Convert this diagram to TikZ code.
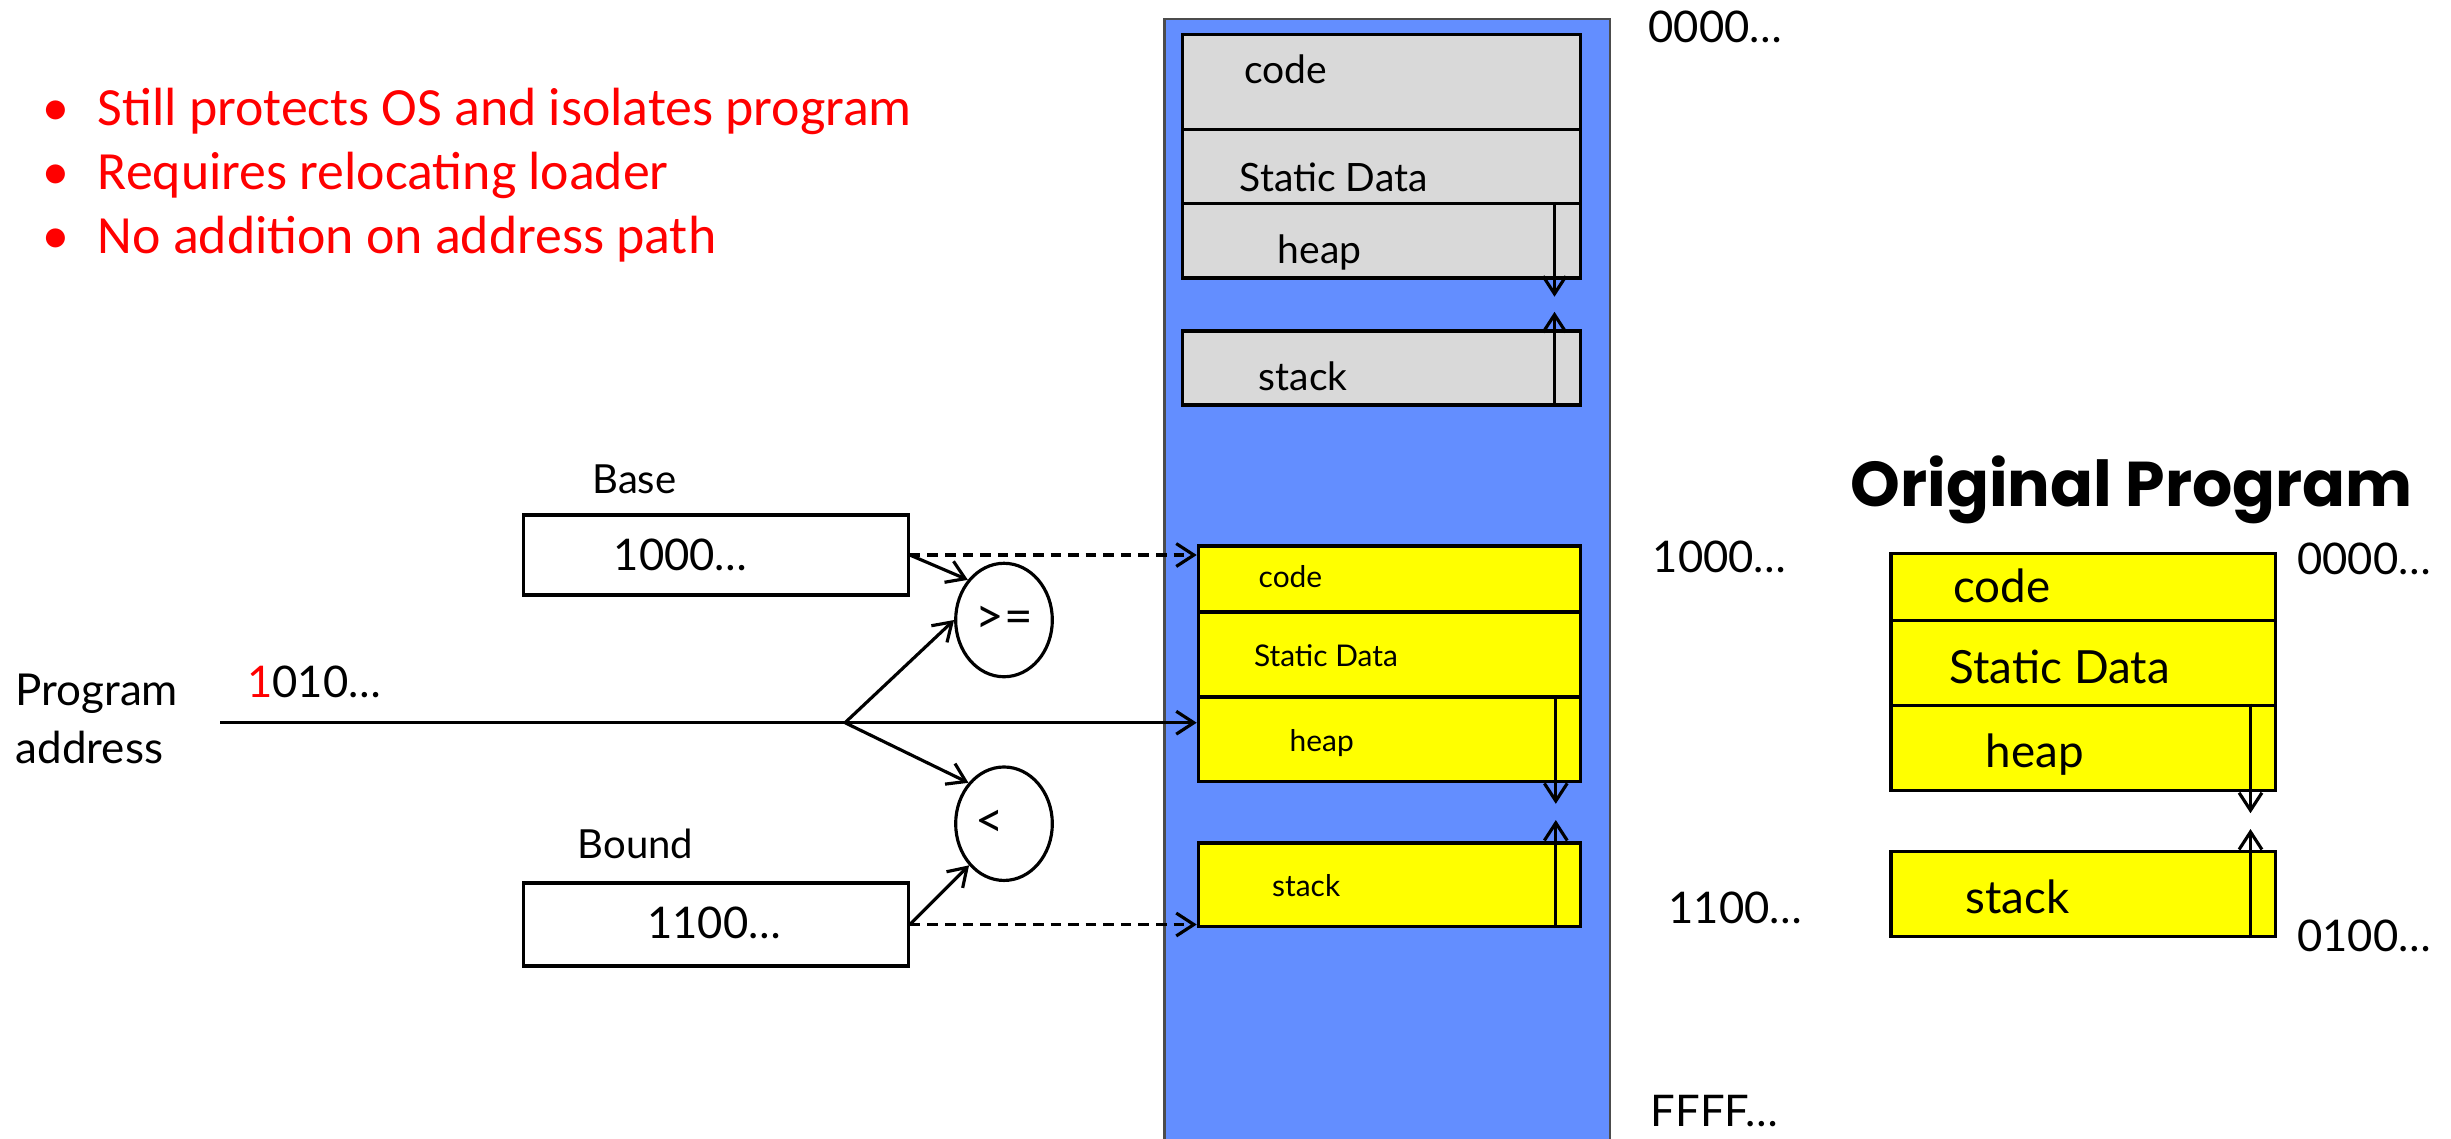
\documentclass[tikz,border=0pt]{standalone}
\usepackage{fontspec}
\setmainfont{Lato}
\newfontfamily\bulletfont{Carlito}
\newfontfamily\titlefont{Poppins}
\usetikzlibrary{arrows.meta,shapes.geometric,fit}
\definecolor{memblue}{RGB}{99,142,255}
\definecolor{memgray}{RGB}{217,217,217}
\definecolor{memyellow}{RGB}{255,255,0}
\newcommand\fs[1]{\fontsize{#1}{#1}\selectfont}
\begin{document}
\begin{tikzpicture}[x=0.01cm,y=-0.01cm,
  seg/.style={draw=black, line width=0.9pt, inner sep=0pt},
  graybox/.style={seg, fill=memgray},
  yelbox/.style={seg, fill=memyellow},
  whitebox/.style={seg, fill=white},
  txt/.style={anchor=base west, inner sep=0pt},
  addr/.style={txt, font=\fs{12.4pt}},
  gtxt/.style={txt, font=\fs{11.1pt}},
  ytxt/.style={txt, font=\fs{8.5pt}},
  otxt/.style={txt, font=\fs{13pt}},
  arr/.style={line width=0.9pt, -{Straight Barb[length=5pt,width=6.5pt]}},
  plain/.style={line width=0.9pt},
  dsh/.style={arr, dash pattern=on 3pt off 2pt},
  cmp/.style={draw, ellipse, line width=0.9pt, minimum width=0.966cm, minimum height=1.134cm, inner sep=0pt, font=\fs{14pt}},
  bul/.style={txt, text=red, font=\bulletfont\fs{15.3pt}}
]
\useasboundingbox (0,0) rectangle (2451,1138);

% bullets
\node[bul] (b1) at (41.5,125) {\makebox[0.555cm][l]{•}Still protects OS and isolates program};
\node[bul] (b2) at (41.5,189) {\makebox[0.555cm][l]{•}Requires relocating loader};
\node[bul] (b3) at (41.5,253) {\makebox[0.555cm][l]{•}No addition on address path};

% physical memory
\node[draw=black!70, line width=0.7pt, fill=memblue, inner sep=0pt, fit={(1164.5,19)(1610,1145)}] (mem) {};

% old program (gray)
\node[graybox, fit={(1182.3,34.4)(1580.3,129.7)}] (gcode) {};
\node[graybox, fit={(1182.3,129.7)(1580.3,203.5)}] (gdata) {};
\node[graybox, fit={(1182.3,203.5)(1580.3,278)}] (gheap) {};
\node[graybox, fit={(1182.3,331)(1580.3,405)}] (gstack) {};
\node[gtxt] at (1243.6,83.7) {code};
\node[gtxt] at (1239,191) {Static Data};
\node[gtxt] at (1277,263.2) {heap};
\node[gtxt] at (1258,390.6) {stack};
\coordinate (gdown) at (1554.5,296.7);
\coordinate (gup) at (1554.5,311.8);
\draw[arr] (gheap.north -| gdown) -- (gdown);
\draw[arr] (gstack.south -| gup) -- (gup);

% relocated program (yellow)
\node[yelbox, fit={(1198.3,546)(1580.3,612)}] (ycode) {};
\node[yelbox, fit={(1198.3,612)(1580.3,697)}] (ydata) {};
\node[yelbox, fit={(1198.3,697)(1580.3,781.5)}] (yheap) {};
\node[yelbox, fit={(1198.3,843)(1580.3,926.5)}] (ystack) {};
\node[ytxt] at (1258,587) {code};
\node[ytxt] at (1253.3,666) {Static Data};
\node[ytxt] at (1289,751) {heap};
\node[ytxt] at (1271.5,896) {stack};
\coordinate (ydown) at (1555.8,803.8);
\coordinate (yup) at (1555.8,820);
\draw[arr] (yheap.north -| ydown) -- (ydown);
\draw[arr] (ystack.south -| yup) -- (yup);

% memory addresses
\node[addr] at (1647.8,42) {0000…};
\node[addr] at (1652,572) {1000…};
\node[addr] at (1667.8,923) {1100…};
\node[addr] at (1650,1126) {FFFF…};

% original program
\node[txt, font=\titlefont\bfseries\fs{18pt}] (title) at (1850,506) {Original Program};
\node[yelbox, fit={(1891,553.5)(2275.5,620.2)}] (ocode) {};
\node[yelbox, fit={(1891,620.2)(2275.5,705.1)}] (odata) {};
\node[yelbox, fit={(1891,705.1)(2275.5,790.4)}] (oheap) {};
\node[yelbox, fit={(1891,851.8)(2275.5,936.7)}] (ostack) {};
\node[otxt] at (1952.7,602.6) {code};
\node[otxt] at (1949,683.3) {Static Data};
\node[otxt] at (1985,767.6) {heap};
\node[otxt] at (1965,913.2) {stack};
\coordinate (odown) at (2250.5,813.2);
\coordinate (oup) at (2250.5,829);
\draw[arr] (oheap.north -| odown) -- (odown);
\draw[arr] (ostack.south -| oup) -- (oup);
\node[addr] at (2296.5,574.6) {0000…};
\node[addr] at (2296.5,951.8) {0100…};

% base / bound registers
\node[txt, font=\fs{11.4pt}] at (591.7,493.3) {Base};
\node[whitebox, fit={(523.3,515)(908.3,595)}] (basebox) {};
\node[addr] at (613,570) {1000…};
\node[txt, font=\fs{11.4pt}] at (577,858.3) {Bound};
\node[whitebox, fit={(523.3,883)(908.3,966)}] (boundbox) {};
\node[addr] at (646.7,938) {1100…};

% comparators
\node[cmp] (ge) at (1004,620) {>=};
\node[cmp] (lt) at (1004,823.7) {<\hphantom{=}};

% program address
\node[anchor=north west, inner sep=0pt, align=left, font=\fontsize{12.5pt}{16.5pt}\selectfont] at (15,673) {Program\\address};
\node[addr] at (246.7,697.3) {{\color{red}1}010…};
\coordinate (pa) at (220,722.7);
\coordinate (br) at (845,722.7);
\draw[plain] (pa) -- (br);
\draw[arr] (br) -- (br -| yheap.west);
\draw[arr] (br) -- (ge.180);
\draw[arr] (br) -- (lt.131);
\draw[arr] (basebox.east) -- (ge.132);
\draw[arr] (boundbox.east) -- (lt.230);
\draw[dsh] (basebox.east) -- (basebox.east -| ycode.west);
\draw[dsh] (boundbox.east) -- (boundbox.east -| ystack.west);
\end{tikzpicture}
\end{document}
